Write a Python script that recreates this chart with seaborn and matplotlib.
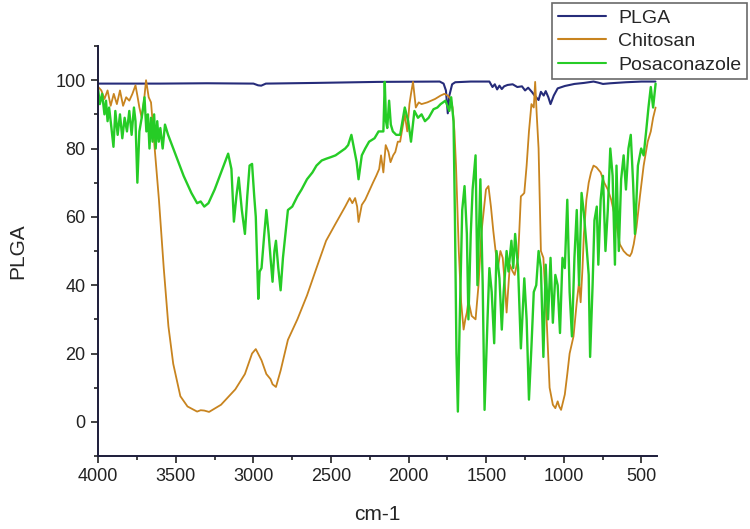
import numpy as np
import pandas as pd
import seaborn as sns
import matplotlib
matplotlib.use("Agg")
import matplotlib.pyplot as plt
from matplotlib.ticker import MultipleLocator

# spectra (wavenumber cm-1, value)
plga_wn = [4000, 3800, 3600, 3300, 3000, 2970, 2950, 2920, 2600, 2200, 1800, 1775, 1760,
           1748, 1738, 1720, 1700, 1600, 1480, 1460, 1445, 1430, 1415, 1400, 1385, 1363,
           1330, 1300, 1270, 1250, 1230, 1205, 1185, 1163, 1148, 1130, 1117, 1100, 1086,
           1065, 1040, 994, 932, 870, 809, 780, 748, 700, 600, 500, 410]
plga_val = [99.0, 99.0, 99.0, 99.1, 99.0, 98.5, 98.4, 99.0, 99.2, 99.5, 99.6, 99.0, 97.0,
            90.3, 95.5, 98.8, 99.4, 99.6, 99.6, 98.0, 98.8, 97.3, 98.4, 97.4, 98.2, 98.6,
            98.8, 98.0, 98.2, 97.0, 97.8, 96.5, 95.3, 94.2, 96.6, 95.5, 96.8, 95.0, 93.0,
            95.5, 97.6, 98.3, 98.9, 99.2, 99.6, 99.3, 98.9, 99.1, 99.4, 99.6, 99.6]

chit_wn = [4000, 3980, 3960, 3940, 3920, 3900, 3880, 3860, 3840, 3820, 3800, 3780, 3760,
           3748, 3735, 3720, 3705, 3692, 3675, 3660, 3650, 3640, 3609, 3578, 3548, 3517,
           3471, 3425, 3363, 3340, 3317, 3286, 3209, 3117, 3055, 3009, 2985, 2948, 2917,
           2890, 2877, 2855, 2825, 2778, 2717, 2655, 2594, 2532, 2471, 2409, 2380, 2363,
           2345, 2332, 2323, 2302, 2280, 2255, 2230, 2209, 2190, 2178, 2163, 2148, 2130,
           2117, 2100, 2086, 2070, 2055, 2040, 2025, 2009, 1995, 1985, 1972, 1954, 1935,
           1917, 1880, 1855, 1830, 1794, 1770, 1748, 1730, 1717, 1705, 1695, 1677, 1662,
           1646, 1635, 1625, 1615, 1594, 1569, 1550, 1532, 1502, 1486, 1470, 1455, 1440,
           1425, 1409, 1394, 1380, 1369, 1348, 1330, 1317, 1295, 1277, 1265, 1255, 1240,
           1225, 1209, 1194, 1185, 1175, 1163, 1148, 1132, 1111, 1092, 1071, 1055, 1040,
           1030, 1018, 1005, 994, 978, 963, 938, 917, 902, 892, 880, 871, 855, 840, 825,
           809, 790, 763, 740, 717, 695, 671, 655, 640, 615, 594, 575, 563, 550, 532, 510,
           486, 460, 440, 425, 409]
chit_val = [98.0, 97.0, 94.5, 97.0, 92.5, 96.0, 93.0, 97.0, 92.5, 95.0, 94.0, 96.0, 98.5,
            95.5, 92.0, 89.0, 94.0, 100.0, 95.0, 93.5, 88.0, 82.0, 65.0, 45.0, 28.0, 17.0,
            7.5, 4.5, 3.0, 3.4, 3.3, 2.9, 5.0, 9.5, 14.0, 20.0, 21.3, 18.0, 14.0, 12.5, 11.0,
            10.2, 15.0, 24.0, 30.0, 37.0, 45.0, 53.0, 58.0, 63.0, 65.5, 64.0, 65.5, 63.0,
            58.5, 63.5, 65.0, 67.5, 70.0, 72.0, 74.0, 78.0, 73.0, 81.0, 79.0, 76.0, 78.0,
            79.0, 82.0, 82.0, 86.0, 90.0, 85.0, 93.0, 96.0, 99.5, 92.0, 93.5, 93.0, 93.5,
            94.0, 94.5, 95.5, 96.0, 95.5, 94.5, 92.0, 85.0, 75.0, 50.0, 35.0, 27.0, 30.0,
            32.0, 35.5, 31.0, 30.0, 40.0, 55.0, 68.0, 69.0, 63.0, 56.0, 50.0, 45.0, 50.0,
            48.0, 40.0, 32.0, 46.0, 44.0, 43.0, 48.0, 66.0, 66.5, 67.0, 75.0, 85.0, 93.0,
            92.0, 99.5, 90.0, 80.0, 50.0, 48.0, 30.0, 10.0, 5.0, 4.0, 6.0, 4.5, 3.5, 6.0,
            8.0, 14.0, 20.0, 25.0, 35.0, 41.0, 35.0, 45.0, 55.0, 65.0, 70.0, 73.0, 75.0,
            74.5, 73.0, 70.0, 68.0, 65.0, 60.0, 56.0, 52.0, 50.0, 49.0, 48.5, 49.5, 52.0,
            57.0, 66.0, 75.0, 82.0, 85.0, 89.0, 92.0]

posa_wn = [4000, 3990, 3975, 3960, 3950, 3940, 3930, 3915, 3902, 3890, 3875, 3860, 3845,
           3830, 3815, 3800, 3785, 3770, 3760, 3748, 3735, 3720, 3702, 3690, 3680, 3670,
           3660, 3650, 3640, 3630, 3620, 3610, 3600, 3585, 3570, 3550, 3500, 3450, 3400,
           3363, 3340, 3317, 3290, 3250, 3200, 3163, 3142, 3126, 3110, 3095, 3075, 3055,
           3040, 3025, 3009, 2995, 2985, 2969, 2960, 2948, 2932, 2917, 2902, 2890, 2877,
           2865, 2855, 2840, 2825, 2810, 2794, 2778, 2750, 2717, 2690, 2655, 2620, 2594,
           2560, 2532, 2500, 2471, 2440, 2409, 2390, 2369, 2348, 2335, 2323, 2302, 2280,
           2255, 2220, 2194, 2163, 2154, 2146, 2138, 2126, 2115, 2102, 2080, 2055, 2040,
           2025, 2003, 1985, 1963, 1940, 1917, 1895, 1871, 1840, 1815, 1794, 1763, 1738,
           1726, 1711, 1702, 1692, 1683, 1671, 1655, 1640, 1625, 1615, 1600, 1588, 1569,
           1557, 1538, 1523, 1511, 1492, 1480, 1465, 1449, 1434, 1415, 1400, 1388, 1369,
           1357, 1338, 1326, 1314, 1295, 1277, 1255, 1240, 1225, 1209, 1194, 1178, 1163,
           1148, 1132, 1117, 1102, 1086, 1071, 1055, 1040, 1025, 1009, 994, 978, 963, 948,
           932, 917, 902, 886, 871, 855, 840, 831, 815, 803, 788, 778, 763, 748, 732, 717,
           701, 686, 671, 661, 646, 631, 615, 600, 584, 569, 554, 542, 523, 502, 486, 470,
           455, 440, 425, 409]
posa_val = [97.0, 93.0, 96.0, 90.0, 94.0, 88.0, 92.0, 86.0, 80.5, 91.0, 84.0, 90.0, 83.0,
            89.0, 85.0, 91.0, 84.0, 92.0, 88.0, 70.0, 85.0, 89.0, 95.0, 85.0, 90.0, 80.0,
            89.0, 82.0, 90.0, 80.0, 88.0, 82.0, 86.0, 80.0, 87.0, 84.0, 78.0, 72.0, 67.0,
            64.0, 64.5, 63.0, 64.0, 68.0, 74.0, 78.5, 74.0, 58.6, 66.0, 71.5, 62.0, 55.0,
            66.0, 75.0, 75.5, 66.0, 60.0, 36.0, 44.0, 45.0, 54.0, 62.0, 55.0, 48.0, 41.0,
            50.0, 53.0, 45.0, 38.5, 48.0, 55.0, 62.0, 63.0, 66.0, 68.0, 71.0, 73.0, 75.0,
            76.5, 77.0, 77.5, 78.0, 79.0, 80.0, 81.0, 84.0, 79.0, 76.0, 71.0, 78.0, 80.0,
            82.0, 83.0, 85.0, 85.0, 99.5, 88.0, 86.0, 94.0, 87.0, 85.0, 84.0, 84.0, 88.0,
            92.0, 88.0, 82.0, 91.0, 89.0, 90.0, 88.0, 89.0, 91.5, 92.0, 93.0, 94.0, 91.0,
            95.0, 88.0, 60.0, 20.0, 3.0, 30.0, 62.0, 69.0, 55.0, 30.0, 55.0, 68.0, 78.0,
            40.0, 71.0, 40.0, 3.5, 30.0, 45.0, 38.0, 23.0, 50.0, 42.0, 27.0, 38.0, 50.0,
            44.0, 53.0, 45.0, 55.0, 45.0, 21.5, 42.0, 30.0, 6.5, 22.0, 38.0, 40.0, 50.0,
            45.0, 19.0, 46.0, 30.0, 48.0, 29.0, 43.0, 40.0, 26.0, 48.0, 45.0, 65.0, 38.0,
            25.0, 48.0, 62.0, 40.0, 67.0, 61.0, 52.0, 43.0, 19.0, 40.0, 59.0, 63.0, 46.0,
            65.0, 72.0, 50.0, 62.0, 80.0, 72.0, 46.0, 75.0, 50.0, 71.0, 78.0, 68.0, 80.0,
            84.0, 70.0, 55.0, 75.0, 80.0, 78.0, 85.0, 92.0, 98.0, 92.0, 99.0]

names = ["PLGA", "Chitosan", "Posaconazole"]
colors = ["#262c7a", "#c8841f", "#26cc26"]
widths = [1.5, 1.3, 1.7]

frames = []
for name, wn, val in zip(names, [plga_wn, chit_wn, posa_wn], [plga_val, chit_val, posa_val]):
    frames.append(pd.DataFrame({"wn": wn, "val": val, "sample": name}))
df = pd.concat(frames, ignore_index=True)

sns.set_style("ticks")
plt.rcParams["font.family"] = ["Liberation Sans", "DejaVu Sans"]

fig = plt.figure(figsize=(7.5, 5.29), dpi=100)
ax = fig.add_axes([0.131, 0.138, 0.745, 0.775])

sns.lineplot(data=df, x="wn", y="val", hue="sample", hue_order=names,
             palette=dict(zip(names, colors)), estimator=None, sort=False,
             linewidth=1.3, ax=ax)
for line, w in zip(ax.get_lines(), widths):
    line.set_linewidth(w)

ax.set_xlim(4000, 400)
ax.set_ylim(-10, 110)
ax.xaxis.set_major_locator(MultipleLocator(500))
ax.xaxis.set_minor_locator(MultipleLocator(250))
ax.yaxis.set_major_locator(MultipleLocator(20))
ax.yaxis.set_minor_locator(MultipleLocator(10))
ax.tick_params(which="major", direction="out", length=5, width=1.2, labelsize=13, colors="#222", pad=4)
ax.tick_params(which="minor", direction="out", length=3, width=1.2, colors="#222")
sns.despine(ax=ax)
for s in ["left", "bottom"]:
    ax.spines[s].set_color("#1c1c3a")
    ax.spines[s].set_linewidth(1.4)

ax.set_xlabel("cm-1", fontsize=15, labelpad=14)
ax.set_ylabel("PLGA", fontsize=15, labelpad=20)

sns.move_legend(ax, "upper right", bbox_to_anchor=(0.996, 0.994),
                bbox_transform=fig.transFigure, title=None, frameon=True,
                fontsize=14, handlelength=2.5, borderpad=0.3, labelspacing=0.3,
                handletextpad=0.6, borderaxespad=0)
leg = ax.get_legend()
leg.get_frame().set_boxstyle("square", pad=0)
leg.get_frame().set_edgecolor("#444")
leg.get_frame().set_linewidth(1.2)
for line in leg.get_lines():
    line.set_linewidth(1.5)

fig.savefig("out.png", dpi=100)
